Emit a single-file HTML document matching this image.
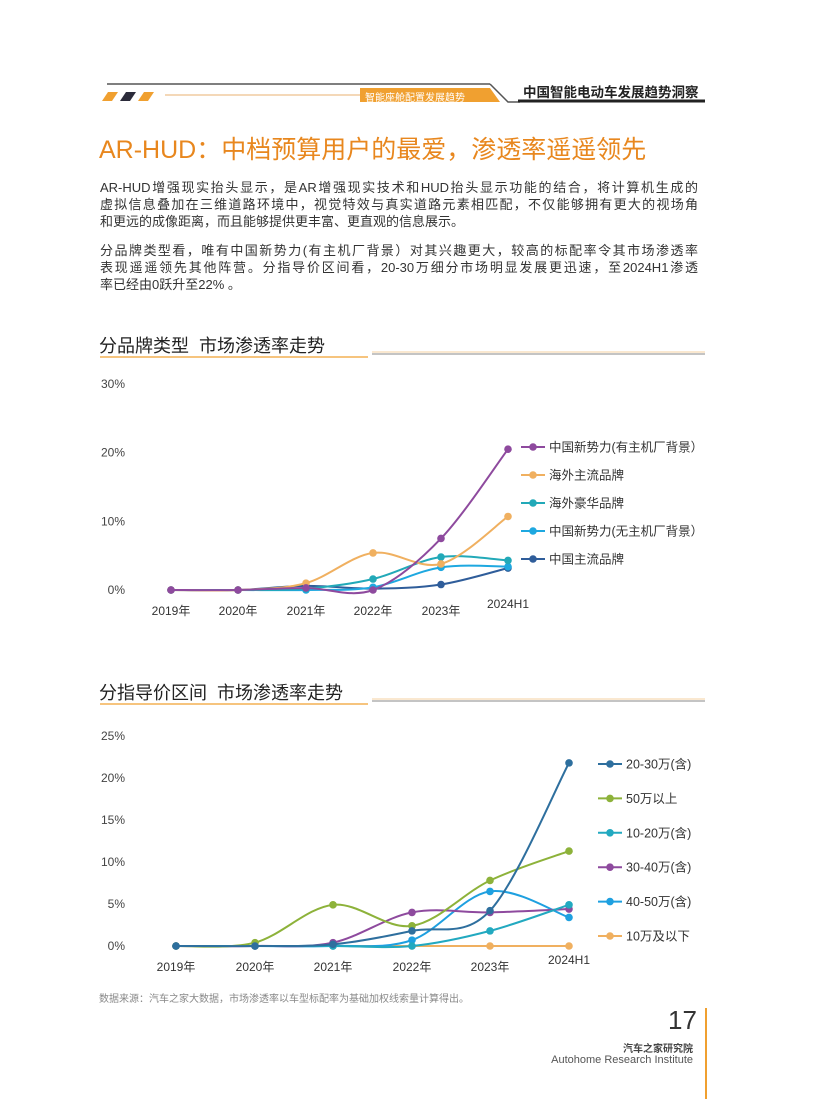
<!DOCTYPE html>
<html><head><meta charset="utf-8">
<style>
body{margin:0;width:816px;height:1099px;background:#fff;position:relative;overflow:hidden;font-family:"Liberation Sans","Noto Sans CJK SC",sans-serif;color:#333}
.a{position:absolute;white-space:nowrap}
.p{position:absolute;left:100px;width:598px;font-size:13px;line-height:17px;color:#333}
.p div{text-align:justify;text-align-last:justify;white-space:nowrap}
.p div.l{text-align-last:left}
</style></head><body>
<svg class="a" style="left:0;top:0" width="816" height="1099">
 <polygon points="102,101 108,92 118,92 112,101" fill="#f0a030"/>
 <polygon points="120,101 126,92 136,92 130,101" fill="#2b2b3a"/>
 <polygon points="138,101 144,92 154,92 148,101" fill="#f0a030"/>
 <line x1="165" y1="95" x2="360" y2="95" stroke="#e8b070" stroke-width="1"/>
 <line x1="107" y1="84" x2="490" y2="84" stroke="#555" stroke-width="1.5"/>
 <polygon points="360,88 490,88 500,102 360,102" fill="#f0a030"/>
 <polyline points="490,84 508,102 520,102" fill="none" stroke="#555" stroke-width="1.5"/>
 <line x1="518" y1="101" x2="705" y2="101" stroke="#222" stroke-width="3"/>
 <line x1="100" y1="357" x2="368" y2="357" stroke="#f0a030" stroke-width="1.2"/>
 <line x1="372" y1="354" x2="705" y2="354" stroke="#888" stroke-width="1"/>
 <line x1="372" y1="352" x2="705" y2="352" stroke="#f0c080" stroke-width="0.8"/>
 <line x1="100" y1="704" x2="368" y2="704" stroke="#f0a030" stroke-width="1.2"/>
 <line x1="372" y1="701" x2="705" y2="701" stroke="#888" stroke-width="1"/>
 <line x1="372" y1="699" x2="705" y2="699" stroke="#f0c080" stroke-width="0.8"/>
 <line x1="706" y1="1008" x2="706" y2="1099" stroke="#f0a030" stroke-width="2"/>
 <g id="c1"></g><g id="c2"></g>
</svg>
<div class="a" style="left:365px;top:89px;font-size:10px;color:#fff">智能座舱配置发展趋势</div>
<div class="a" style="left:523px;top:81px;font-size:13.5px;font-weight:bold;color:#222">中国智能电动车发展趋势洞察</div>
<div class="a" style="left:99px;top:130px;font-size:25px;color:#e8871e">AR-HUD：中档预算用户的最爱，渗透率遥遥领先</div>
<div class="p" style="top:179px">
<div>AR-HUD增强现实抬头显示，是AR增强现实技术和HUD抬头显示功能的结合，将计算机生成的</div>
<div>虚拟信息叠加在三维道路环境中，视觉特效与真实道路元素相匹配，不仅能够拥有更大的视场角</div>
<div class="l">和更远的成像距离，而且能够提供更丰富、更直观的信息展示。</div>
</div>
<div class="p" style="top:242px">
<div>分品牌类型看，唯有中国新势力(有主机厂背景）对其兴趣更大，较高的标配率令其市场渗透率</div>
<div>表现遥遥领先其他阵营。分指导价区间看，20-30万细分市场明显发展更迅速，至2024H1渗透</div>
<div class="l">率已经由0跃升至22% 。</div>
</div>
<div class="a" style="left:99px;top:332px;font-size:18px;color:#222">分品牌类型&nbsp; 市场渗透率走势</div>
<div class="a" style="left:99px;top:679px;font-size:18px;color:#222">分指导价区间&nbsp; 市场渗透率走势</div>
<div class="a" style="left:99px;top:990px;font-size:10px;color:#888">数据来源：汽车之家大数据，市场渗透率以车型标配率为基础加权线索量计算得出。</div>
<div class="a" style="left:668px;top:1005px;font-size:26px;color:#333">17</div>
<div class="a" style="right:123px;top:1040px;font-size:10px;font-weight:bold;color:#444">汽车之家研究院</div>
<div class="a" style="right:123px;top:1054px;font-size:11px;color:#555">Autohome Research Institute</div>
<script>
function path(pts){let d='M'+pts[0][0]+','+pts[0][1];for(let i=0;i<pts.length-1;i++){const p0=pts[i-1]||pts[i],p1=pts[i],p2=pts[i+1],p3=pts[i+2]||p2;const t=6;d+=' C'+(p1[0]+(p2[0]-p0[0])/t)+','+(p1[1]+(p2[1]-p0[1])/t)+' '+(p2[0]-(p3[0]-p1[0])/t)+','+(p2[1]-(p3[1]-p1[1])/t)+' '+p2[0]+','+p2[1];}return d;}
function chart(id,xs,y0,k,ticks,step,series,legX,legY,legGap,labX){let s='';
ticks.forEach((t,i)=>{s+=`<text x="125" y="${y0-i*step*k+4}" font-size="12" fill="#444" text-anchor="end" font-family="Liberation Sans">${t}%</text>`});
const labs=['2019年','2020年','2021年','2022年','2023年','2024H1'];
labs.forEach((l,i)=>{s+=`<text x="${xs[i]}" y="${y0+(i==5?18:25)}" font-size="12" fill="#333" text-anchor="middle" font-family="Liberation Sans,Noto Sans CJK SC">${l}</text>`});
series.slice().reverse().forEach(se=>{const pts=se.v.map((v,i)=>[xs[i],y0-v*k]);s+=`<path d="${path(pts)}" fill="none" stroke="${se.c}" stroke-width="2"/>`;pts.forEach(p=>{s+=`<circle cx="${p[0]}" cy="${p[1]}" r="3.8" fill="${se.c}"/>`})});
series.forEach((se,i)=>{const y=legY+i*legGap;s+=`<line x1="${legX-12}" y1="${y}" x2="${legX+12}" y2="${y}" stroke="${se.c}" stroke-width="2"/><circle cx="${legX}" cy="${y}" r="3.8" fill="${se.c}"/><text x="${labX}" y="${y+4.5}" font-size="12.5" fill="#333" font-family="Liberation Sans,Noto Sans CJK SC">${se.n}</text>`});
document.getElementById(id).innerHTML=s;}
chart('c1',[171,238,306,373,441,508],590,6.87,[0,10,20,30],10,[
{n:'中国新势力(有主机厂背景）',c:'#8e4a9e',v:[0,0,0.3,0,7.5,20.5]},
{n:'海外主流品牌',c:'#f0b060',v:[0,0,1,5.4,3.8,10.7]},
{n:'海外豪华品牌',c:'#22a9b8',v:[0,0,0.2,1.6,4.8,4.3]},
{n:'中国新势力(无主机厂背景）',c:'#1ea8e0',v:[0,0,0,0.4,3.3,3.4]},
{n:'中国主流品牌',c:'#2f5d9a',v:[0,0,0.6,0.2,0.8,3.2]}],533,447,28,549);
chart('c2',[176,255,333,412,490,569],946,8.4,[0,5,10,15,20,25],5,[
{n:'20-30万(含)',c:'#2e6f9e',v:[0,0,0.2,1.8,4.2,21.8]},
{n:'50万以上',c:'#8db23a',v:[0,0.4,4.9,2.4,7.8,11.3]},
{n:'10-20万(含)',c:'#22a9c0',v:[0,0,0,0,1.8,4.9]},
{n:'30-40万(含)',c:'#8e4a9e',v:[0,0,0.4,4.0,4.0,4.4]},
{n:'40-50万(含)',c:'#1ea0e0',v:[0,0,0,0.7,6.5,3.4]},
{n:'10万及以下',c:'#f0b060',v:[0,0,0,0,0,0]}],610,764,34.4,626);
</script>
</body></html>
